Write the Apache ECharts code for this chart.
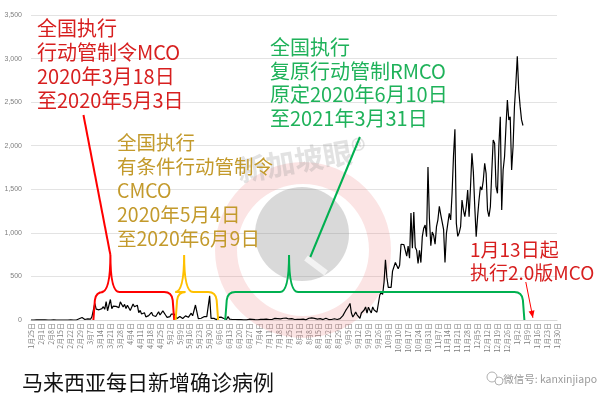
<!DOCTYPE html>
<html>
<head>
<meta charset="utf-8">
<script src="https://cdn.jsdelivr.net/npm/echarts@6/dist/echarts.min.js"></script>
<style>
  html, body { margin: 0; padding: 0; background: #fff; }
  #main { width: 601px; height: 398px; }
</style>
</head>
<body>
<div id="main"></div>
<script>
// 横轴日期标签 (每7天一个)
var axisDates = []
for (var i = 0; i < 372; i++) {
  var d = new Date(2020, 0, 25 + i)
  axisDates.push((d.getMonth() + 1) + '月' + d.getDate() + '日')
}

// 每日新增确诊
var dailyCases = [
  0, 1,
  0, 0, 1, 2, 2, 2, 2, 1, 1, 0, 0, 0, 0, 0, 3, 1, 0, 0, 0, 0, 0, 0, 0, 0, 0, 0, 1, 0, 0,
  4, 0, 7, 14, 5, 28, 10, 6, 18, 12, 20, 9, 39, 41, 190, 125, 120, 117, 110, 130, 153, 123, 212, 106, 172, 235, 130, 159, 150, 156, 140,
  142, 208, 217, 150, 179, 131, 170, 156, 109, 118, 184, 153, 134, 170, 85, 110, 69, 54, 84, 36, 57, 50, 71, 88, 51, 38, 40, 31, 94, 57,
  69, 105, 122, 55, 30, 45, 39, 68, 54, 67, 70, 16, 37, 40, 36, 17, 22, 47, 37, 31, 50, 78, 48, 60, 172, 187, 15, 10, 20, 30, 38,
  57, 38, 20, 277, 19, 37, 19, 7, 2, 31, 33, 33, 22, 17, 8, 8, 41, 10, 21, 6, 8, 6, 4, 4, 5, 5, 6, 1, 3, 2,
  1, 9, 3, 8, 3, 4, 6, 3, 4, 8, 10, 8, 7, 10, 5, 6, 11, 6, 15, 18, 4, 15, 23, 12, 11, 20, 24, 21, 14, 12, 15,
  15, 8, 6, 11, 7, 9, 8, 24, 10, 13, 2, 10, 20, 26, 25, 16, 18, 11, 11, 9, 15, 7, 5, 7, 20, 12, 5, 11, 6, 7, 14,
  5, 6, 8, 15, 20, 50, 80, 110, 135, 160, 190, 80, 35, 60, 90, 60, 40, 20, 80, 100, 115, 150, 80, 147, 111, 82, 150, 115, 101, 89,
  89, 287, 317, 293, 432, 691, 489, 374, 354, 374, 561, 563, 660, 660, 589, 629, 869, 871, 865, 862, 732, 847, 710, 1228, 823, 1240, 835, 801, 649, 799, 659,
  957, 1054, 1090, 956, 1755, 1168, 852, 1009, 972, 869, 1071, 1150, 1304, 1210, 1208, 1041, 659, 995, 1000, 1224, 1148, 1454, 1884, 2188, 1109, 960, 1000, 1071, 1377, 1260,
  1186, 1300, 1492, 1186, 1530, 1913, 1700, 1300, 956, 1186, 1377, 1530, 1492, 1600, 1798, 1683, 1262, 1186, 1300, 1700, 2066, 2028, 1530, 1454, 2000, 2333, 1262, 1721, 1874, 2218, 2525,
  2295, 2333, 1721, 1989, 2448, 2716, 3027, 2643, 2451, 2296, 2232
]

// 大括号: [左端, 尖点, 右端, 横线高度, 尖点高度]
var bracketRanges = [
  [44, 56, 101, 321, 746],
  [102, 108, 132, 321, 746],
  [137, 182, 348, 321, 746]
]
var bracketColors = ['#ff0000', '#ffc000', '#00b050']

// 指示线: [x1, y1, x2, y2, 是否箭头]
var pointerLines = [
  [37, 2353, 56, 746, 0],
  [197, 723, 232, 2100, 0],
  [349, 436, 354, 25, 1]
]
var pointerColors = ['#ff0000', '#00b050', '#ff0000']

var myChart = echarts.init(document.getElementById('main'))

function renderBracket (params, api) {
  var b = api.coord([api.value(0), 0])
  var p = api.coord([api.value(1), api.value(4)])
  var r = api.coord([api.value(2), 0])
  var h = api.coord([api.value(0), api.value(3)])[1]
  var xL = b[0], yB = b[1], xP = p[0], yT = p[1], xR = r[0]
  var d = 'M' + xL + ',' + yB +
    ' L' + (xL + 1.5) + ',' + (h + 8) +
    ' Q' + (xL + 2.5) + ',' + h + ' ' + (xL + 10) + ',' + h +
    ' L' + (xP - 9) + ',' + h +
    ' Q' + xP + ',' + h + ' ' + xP + ',' + yT +
    ' Q' + xP + ',' + h + ' ' + (xP + 9) + ',' + h +
    ' L' + (xR - 10) + ',' + h +
    ' Q' + (xR - 2.5) + ',' + h + ' ' + (xR - 1.5) + ',' + (h + 8) +
    ' L' + xR + ',' + yB
  return {
    type: 'path',
    shape: { pathData: d },
    style: { stroke: api.visual('color'), fill: 'none', lineWidth: 2 }
  }
}

function renderPointer (params, api) {
  var a = api.coord([api.value(0), api.value(1)])
  var b = api.coord([api.value(2), api.value(3)])
  var color = api.visual('color')
  var children = [{
    type: 'line',
    shape: { x1: a[0], y1: a[1], x2: b[0], y2: b[1] },
    style: { stroke: color, lineWidth: api.value(4) ? 1 : 2 }
  }]
  if (api.value(4)) {
    var ang = Math.atan2(b[1] - a[1], b[0] - a[0])
    var len = 7, wid = 3
    var bx = b[0] - len * Math.cos(ang), by = b[1] - len * Math.sin(ang)
    children.push({
      type: 'polygon',
      shape: { points: [
        [b[0], b[1]],
        [bx + wid * Math.sin(ang), by - wid * Math.cos(ang)],
        [bx - wid * Math.sin(ang), by + wid * Math.cos(ang)]
      ] },
      style: { fill: color }
    })
  }
  return { type: 'group', children: children }
}

var cjk = '"Noto Sans CJK SC", sans-serif'

myChart.setOption({
  animation: false,
  grid: { left: 31, right: 44, top: 15, bottom: 78 },
  xAxis: {
    type: 'category',
    data: axisDates,
    boundaryGap: false,
    axisLine: { lineStyle: { color: '#d9d9d9' } },
    axisTick: { show: false },
    axisLabel: {
      interval: 6,
      rotate: 90,
      fontSize: 7,
      color: '#7f7f7f',
      margin: 3,
      fontFamily: cjk
    }
  },
  yAxis: {
    type: 'value',
    min: 0,
    max: 3500,
    interval: 500,
    axisLine: { show: false },
    axisTick: { show: false },
    splitLine: { lineStyle: { color: '#e3e3e3' } },
    axisLabel: {
      fontSize: 7,
      color: '#7f7f7f',
      margin: 9,
      formatter: function (v) { return v.toLocaleString('en-US') }
    }
  },
  graphic: [
    { type: 'ring', z: 1, shape: { cx: 303, cy: 250, r: 88, r0: 66 }, style: { fill: 'rgba(236,120,120,0.2)' } },
    { type: 'circle', z: 1, shape: { cx: 302, cy: 234, r: 47 }, style: { fill: 'rgba(130,130,130,0.3)' } },
    { type: 'line', z: 1, shape: { x1: 306, y1: 258, x2: 326, y2: 273 }, style: { stroke: 'rgba(255,255,255,0.7)', lineWidth: 6 } },
    { type: 'text', z: 1, x: 302, y: 160, rotation: 0.17, style: { text: '新加坡眼®', fill: 'rgba(140,140,140,0.25)', font: 'bold 29px ' + cjk, align: 'center', verticalAlign: 'middle' } },
    { type: 'text', z: 10, x: 37, y: 16, style: { text: '全国执行\n行动管制令MCO\n2020年3月18日\n至2020年5月3日', fill: '#d71f1f', font: '20px ' + cjk, lineHeight: 24 } },
    { type: 'text', z: 10, x: 117, y: 131, style: { text: '全国执行\n有条件行动管制令\nCMCO\n2020年5月4日\n至2020年6月9日', fill: '#c39a2c', font: '19.5px ' + cjk, lineHeight: 24 } },
    { type: 'text', z: 10, x: 270, y: 36, style: { text: '全国执行\n复原行动管制RMCO\n原定2020年6月10日\n至2021年3月31日', fill: '#1fb25a', font: '20px ' + cjk, lineHeight: 23.5 } },
    { type: 'text', z: 10, x: 470, y: 238, style: { text: '1月13日起\n执行2.0版MCO', fill: '#d71f1f', font: '19px ' + cjk, lineHeight: 23 } },
    { type: 'text', z: 10, x: 22, y: 382, style: { text: '马来西亚每日新增确诊病例', fill: '#111', font: '21px ' + cjk, verticalAlign: 'middle' } },
    { type: 'text', z: 10, x: 597, y: 379, style: { text: '微信号: kanxinjiapo', fill: '#9a9a9a', font: '10.5px ' + cjk, align: 'right', verticalAlign: 'middle' } },
    { type: 'circle', z: 10, shape: { cx: 492, cy: 377, r: 5 }, style: { fill: 'none', stroke: '#b0b0b0', lineWidth: 1 } },
    { type: 'circle', z: 10, shape: { cx: 499, cy: 381, r: 4 }, style: { fill: '#fff', stroke: '#b0b0b0', lineWidth: 1 } }
  ],
  series: [
    {
      name: '每日新增确诊',
      type: 'line',
      data: dailyCases,
      showSymbol: false,
      lineStyle: { color: '#000', width: 1.2 },
      z: 3
    },
    {
      type: 'custom',
      renderItem: renderBracket,
      encode: { x: [0, 1, 2], y: [3, 4] },
      data: bracketRanges.map(function (b, k) {
        return { value: b, itemStyle: { color: bracketColors[k] } }
      }),
      z: 4
    },
    {
      type: 'custom',
      renderItem: renderPointer,
      encode: { x: [0, 2], y: [1, 3] },
      data: pointerLines.map(function (p, k) {
        return { value: p, itemStyle: { color: pointerColors[k] } }
      }),
      z: 4
    }
  ]
})

window.addEventListener('resize', function () {
  myChart.resize()
})
</script>
</body>
</html>
